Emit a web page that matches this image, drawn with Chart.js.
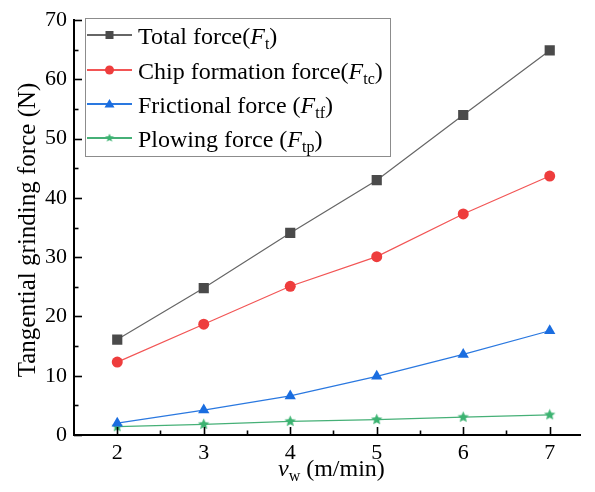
<!DOCTYPE html>
<html><head><meta charset="utf-8">
<script src="https://cdn.jsdelivr.net/npm/chart.js@4"></script>
<style>html,body{margin:0;padding:0;background:#fff}#wrap{width:595px;height:492px}</style>
</head><body><div id="wrap"><canvas id="c" width="595" height="492"></canvas></div>
<script>
const speeds = [2, 3, 4, 5, 6, 7];
const totalForce = [16.1, 24.8, 34.1, 43.0, 54.0, 64.9];
const chipForce = [12.3, 18.7, 25.1, 30.1, 37.3, 43.7];
const frictionForce = [2.0, 4.2, 6.6, 9.9, 13.6, 17.6];
const plowingForce = [1.4, 1.8, 2.3, 2.6, 3.0, 3.4];
const xTickValues = [2, 3, 4, 5, 6, 7];
const yTickValues = [0, 10, 20, 30, 40, 50, 60, 70];
const legendParts = [
  ['Total force(', 'F', 't', ')'],
  ['Chip formation force(', 'F', 'tc', ')'],
  ['Frictional force (', 'F', 'tf', ')'],
  ['Plowing force (', 'F', 'tp', ')']
];

const SERIF = '"Liberation Serif", "DejaVu Serif", serif';

function makeStar(size, color) {
  const cv = document.createElement('canvas');
  cv.width = size; cv.height = size;
  const g = cv.getContext('2d');
  const cx = size / 2, cy = size / 2, R = size / 2 - 0.5, r = R * 0.45;
  g.beginPath();
  for (let i = 0; i < 10; i++) {
    const ang = -Math.PI / 2 + i * Math.PI / 5;
    const rad = i % 2 === 0 ? R : r;
    const px = cx + Math.cos(ang) * rad, py = cy + Math.sin(ang) * rad;
    if (i === 0) g.moveTo(px, py); else g.lineTo(px, py);
  }
  g.closePath();
  g.fillStyle = color; g.fill();
  return cv;
}
const starBig = makeStar(13, '#3cb371');
const starSmall = makeStar(10, '#3cb371');

function pts(arr) { return speeds.map((s, i) => ({x: s, y: arr[i]})); }

const series = [
  {label: 'Total force', data: pts(totalForce), borderColor: '#666666', backgroundColor: '#4a4a4a', pointStyle: 'rect', pointRadius: 7.2},
  {label: 'Chip formation force', data: pts(chipForce), borderColor: '#f25555', backgroundColor: '#ee3d3d', pointStyle: 'circle', pointRadius: 5.5},
  {label: 'Frictional force', data: pts(frictionForce), borderColor: '#2a78e0', backgroundColor: '#1a6de0', pointStyle: 'triangle', pointRadius: 6.5},
  {label: 'Plowing force', data: pts(plowingForce), borderColor: '#46b077', backgroundColor: '#3cb371', pointStyle: starBig, pointRadius: 6.5}
];

function drawMarker(ctx, style, x, y, color) {
  ctx.save();
  ctx.fillStyle = color;
  if (style === 'rect') {
    ctx.fillRect(x - 4, y - 4, 8, 8);
  } else if (style === 'circle') {
    ctx.beginPath(); ctx.arc(x, y, 4.5, 0, Math.PI * 2); ctx.fill();
  } else if (style === 'triangle') {
    ctx.beginPath(); ctx.moveTo(x, y - 5); ctx.lineTo(x + 5, y + 3.5); ctx.lineTo(x - 5, y + 3.5); ctx.closePath(); ctx.fill();
  } else {
    ctx.drawImage(starSmall, x - 5, y - 5);
  }
  ctx.restore();
}

function drawRich(ctx, x, y, parts, size) {
  ctx.textBaseline = 'alphabetic';
  ctx.textAlign = 'left';
  ctx.fillStyle = '#000';
  ctx.font = size + 'px ' + SERIF;
  ctx.fillText(parts[0], x, y); x += ctx.measureText(parts[0]).width;
  ctx.font = 'italic ' + size + 'px ' + SERIF;
  ctx.fillText(parts[1], x, y); x += ctx.measureText(parts[1]).width;
  const sub = Math.round(size * 0.68);
  ctx.font = sub + 'px ' + SERIF;
  ctx.fillText(parts[2], x, y + size * 0.22); x += ctx.measureText(parts[2]).width;
  ctx.font = size + 'px ' + SERIF;
  if (parts[3]) { ctx.fillText(parts[3], x, y); x += ctx.measureText(parts[3]).width; }
  return x;
}

const decor = {
  id: 'decor',
  afterDraw(chart) {
    const ctx = chart.ctx;
    const xs = chart.scales.x, ys = chart.scales.y;
    const area = chart.chartArea;
    ctx.save();
    ctx.strokeStyle = '#000';
    ctx.lineWidth = 1.6;
    for (let v = 0; v <= 70; v += 5) {
      const py = Math.round(ys.getPixelForValue(v)) + 0.5;
      const len = v % 10 === 0 ? 8 : 4.5;
      ctx.beginPath(); ctx.moveTo(area.left, py); ctx.lineTo(area.left + len, py); ctx.stroke();
    }
    for (let v = 2; v <= 7.01; v += 0.5) {
      const px = Math.round(xs.getPixelForValue(v)) + 0.5;
      const len = Math.abs(v - Math.round(v)) < 1e-6 ? 8 : 4.5;
      ctx.beginPath(); ctx.moveTo(px, area.bottom); ctx.lineTo(px, area.bottom - len); ctx.stroke();
    }
    // legend
    const lx = 85.5, ly = 18.5, lw = 305, lh = 138;
    ctx.fillStyle = '#fff';
    ctx.fillRect(lx, ly, lw, lh);
    ctx.strokeStyle = '#8c8c8c';
    ctx.lineWidth = 1;
    ctx.strokeRect(lx, ly, lw, lh);
    const rows = [35, 70, 104, 138];
    chart.data.datasets.forEach((ds, i) => {
      const y = rows[i];
      ctx.strokeStyle = ds.borderColor;
      ctx.lineWidth = 1.8;
      ctx.beginPath(); ctx.moveTo(87, y); ctx.lineTo(132, y); ctx.stroke();
      drawMarker(ctx, typeof ds.pointStyle === 'string' ? ds.pointStyle : 'star', 109.5, y, ds.backgroundColor);
      drawRich(ctx, 138, y + 8.5, legendParts[i], 24);
    });
    // x title
    ctx.font = 'italic 24px ' + SERIF;
    const w1 = ctx.measureText('v').width;
    ctx.font = '16px ' + SERIF;
    const w2 = ctx.measureText('w').width;
    ctx.font = '24px ' + SERIF;
    const w3 = ctx.measureText(' (m/min)').width;
    const total = w1 + w2 + w3;
    let tx = 278;
    const ty = 476;
    ctx.fillStyle = '#000';
    ctx.textBaseline = 'alphabetic';
    ctx.textAlign = 'left';
    ctx.font = 'italic 24px ' + SERIF; ctx.fillText('v', tx, ty); tx += w1;
    ctx.font = '16px ' + SERIF; ctx.fillText('w', tx, ty + 5); tx += w2;
    ctx.font = '24px ' + SERIF; ctx.fillText(' (m/min)', tx, ty);
    // y title
    ctx.save();
    ctx.translate(35, 230);
    ctx.rotate(-Math.PI / 2);
    ctx.textAlign = 'center';
    ctx.textBaseline = 'alphabetic';
    ctx.font = '25px ' + SERIF;
    ctx.fillText('Tangential grinding force (N)', 0, 0);
    ctx.restore();
    ctx.restore();
  }
};

new Chart(document.getElementById('c'), {
  type: 'line',
  data: {
    datasets: series.map(s => ({
      label: s.label,
      data: s.data,
      borderColor: s.borderColor,
      backgroundColor: s.backgroundColor,
      pointBackgroundColor: s.backgroundColor,
      pointBorderColor: s.backgroundColor,
      pointBorderWidth: 0,
      pointStyle: s.pointStyle,
      pointRadius: s.pointRadius,
      borderWidth: 1.2,
      tension: 0,
      fill: false
    }))
  },
  options: {
    responsive: false,
    animation: false,
    devicePixelRatio: 1,
    layout: {padding: {top: 19, right: 15, left: 0, bottom: 0}},
    plugins: {legend: {display: false}, tooltip: {enabled: false}},
    scales: {
      x: {
        type: 'linear', min: 1.5, max: 7.35,
        afterFit(scale) { scale.height = 57; },
        afterBuildTicks(scale) { scale.ticks = xTickValues.map(v => ({value: v})); },
        grid: {display: false, drawTicks: false},
        border: {display: true, color: '#000', width: 2},
        ticks: {font: {family: SERIF, size: 22}, color: '#000', padding: 5, maxRotation: 0, autoSkip: false}
      },
      y: {
        type: 'linear', min: 0, max: 70,
        afterFit(scale) { scale.width = 74; },
        afterBuildTicks(scale) { scale.ticks = yTickValues.map(v => ({value: v})); },
        grid: {display: false, drawTicks: false},
        border: {display: true, color: '#000', width: 2},
        ticks: {font: {family: SERIF, size: 22}, color: '#000', padding: 7, autoSkip: false}
      }
    }
  },
  plugins: [decor]
});
</script>
</body></html>
